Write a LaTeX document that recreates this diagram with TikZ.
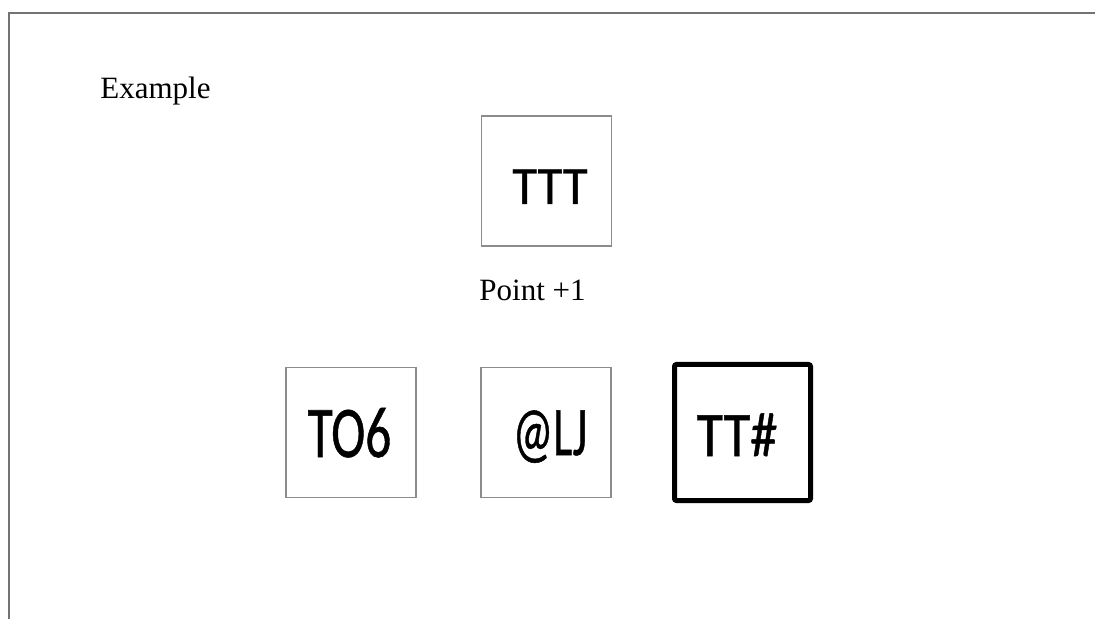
\documentclass[tikz,border=0pt]{standalone}
\usepackage{graphicx}
\usepackage{fontspec}
\setmainfont{Liberation Serif}
\newfontfamily\cali[FakeBold=0.8]{Carlito}
\usepackage{tikz}
\usetikzlibrary{positioning}
\newcommand{\glyphs}[3]{\scalebox{#1}[1]{\fontsize{#2}{#2}\selectfont\cali #3}}

\begin{document}
\begin{tikzpicture}[x=0.5pt,y=-0.5pt,
  cell/.style={draw=black!45,line width=0.6pt,minimum width=65pt,minimum height=65pt,inner sep=0pt},
  boldcell/.style={cell,draw=black,line width=2.5pt,rounded corners=1pt,minimum width=68pt,minimum height=68pt},
  glyph/.style={anchor=base,inner sep=0pt},
  caption/.style={anchor=base west,inner sep=0pt,font=\fontsize{15.5}{18}\selectfont}]
  \useasboundingbox (0,0) rectangle (1095,619);
  \draw[black!55,line width=0.8pt] (9,619) -- (9,13) -- (1095,13);
  \node[caption] (title) at (100,99) {Example};
  % card at the top
  \node[cell] (top) at (546.5,181) {};
  \node[glyph] (toplab) at (550,204) {\glyphs{0.94}{26.9}{TTT}};
  \node[caption] (score) at (479,301) {Point +1};
  % row of three cards
  \node[cell] (left) at (351,432.5) {};
  \node[glyph] (leftlab) at (349.5,457) {\glyphs{0.705}{36.4}{TO6}};
  \node[cell] (mid) at (546,432.5) {};
  \node[glyph] (midlab) at (550,455) {\glyphs{0.65}{34.8}{@LJ}};
  \node[boldcell] (right) at (742.5,432.5) {};
  \node[glyph] (rightlab) at (737,456) {\glyphs{0.86}{31.6}{TT\#}};
\end{tikzpicture}
\end{document}
